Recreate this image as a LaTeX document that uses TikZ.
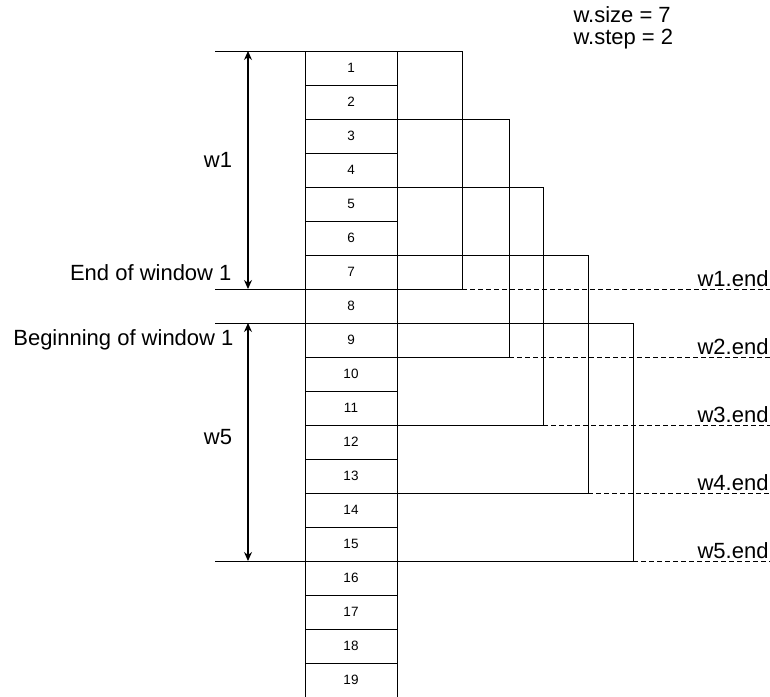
\documentclass[tikz,border=0pt]{standalone}
\usepackage{fontspec}
\setmainfont{Liberation Sans}
\usepackage{tikz}
\usetikzlibrary{arrows.meta}
\usetikzlibrary{positioning}
\tikzset{
  celula/.style={draw, outer sep=0pt, minimum width=92pt, minimum height=34pt, inner sep=0pt, font=\fontsize{13.5}{16}\selectfont},
  rotulo/.style={font=\fontsize{22}{25}\selectfont, inner sep=1pt},
  janela/.style={line width=1pt},
  fim/.style={line width=1pt, dashed, dash pattern=on 5pt off 3pt},
  cota/.style={{Stealth[length=9pt,width=8pt]}-{Stealth[length=9pt,width=8pt]}, line width=1.2pt},
}

\begin{document}
\begin{tikzpicture}[x=1pt, y=1pt, line width=1pt, node distance=0pt]
  \useasboundingbox (0,0) rectangle (770,-696);
  \node[celula] (c1) at (351,-68) {1};
  \foreach \k [remember=\k as \ant (initially 1)] in {2,...,19}
    \node[celula, below=of c\ant] (c\k) {\k};
  % janelas
  \coordinate (esq) at (215,0);
  \coordinate (seta) at (248,0);
  \coordinate (dir) at (770,0);
  \foreach \i/\xr in {1/462, 2/509, 3/543, 4/588, 5/633} {
    \pgfmathtruncatemacro\a{2*\i-1}
    \pgfmathtruncatemacro\b{2*\i+5}
    \draw[janela] (c\a.north east) -| (\xr,0 |- c\b.south) coordinate (w\i end) -- (c\b.south east);
    \draw[fim] (w\i end) -- (dir |- w\i end) node[rotulo, above left, yshift=1pt] {w\i.end};
  }
  \draw[janela] (esq |- c1.north) -- (c1.north west);
  \draw[janela] (esq |- c7.south) -- (c7.south west);
  \draw[janela] (esq |- c9.north) -- (c9.north west);
  \draw[janela] (esq |- c15.south) -- (c15.south west);
  \draw[cota] (seta |- c1.north) -- (seta |- c7.south);
  \draw[cota] (seta |- c9.north) -- (seta |- c15.south);
  \node[rotulo] (w1) at (218,-160) {w1};
  \node[rotulo] (w5) at (218,-437) {w5};
  \node[rotulo, anchor=east] (fim1) at (233,-273) {End of window 1};
  \node[rotulo, anchor=east] (ini1) at (235,-340) {Beginning of window 1};
  \node[rotulo, anchor=north west, align=left, font=\fontsize{22}{22}\selectfont] (param) at (572,-5) {w.size = 7\\w.step = 2};
\end{tikzpicture}
\end{document}
